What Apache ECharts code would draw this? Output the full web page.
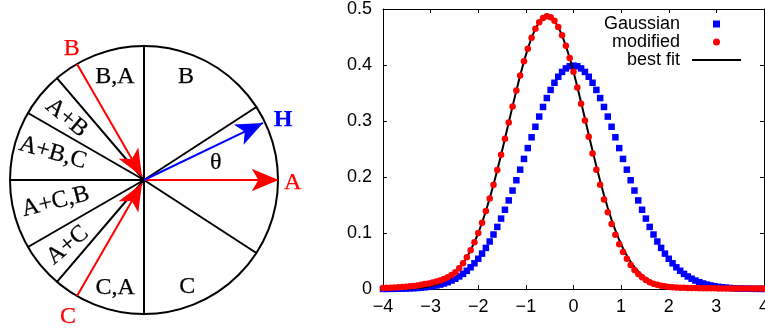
<!DOCTYPE html>
<html>
<head>
<meta charset="utf-8">
<script src="https://cdn.jsdelivr.net/npm/echarts@6/dist/echarts.min.js"></script>
<style>
  html, body { margin: 0; padding: 0; background: #fff; }
  #chart { width: 765px; height: 333px; }
</style>
</head>
<body>
<div id="chart"></div>
<script>
// right panel: sample positions and the three curves
const xs = [
  -4, -3.92, -3.84, -3.76, -3.68, -3.6, -3.52, -3.44, -3.36, -3.28,
  -3.2, -3.12, -3.04, -2.96, -2.88, -2.8, -2.72, -2.64, -2.56, -2.48,
  -2.4, -2.32, -2.24, -2.16, -2.08, -2, -1.92, -1.84, -1.76, -1.68,
  -1.6, -1.52, -1.44, -1.36, -1.28, -1.2, -1.12, -1.04, -0.96, -0.88,
  -0.8, -0.72, -0.64, -0.56, -0.48, -0.4, -0.32, -0.24, -0.16, -0.08,
  0, 0.08, 0.16, 0.24, 0.32, 0.4, 0.48, 0.56, 0.64, 0.72,
  0.8, 0.88, 0.96, 1.04, 1.12, 1.2, 1.28, 1.36, 1.44, 1.52,
  1.6, 1.68, 1.76, 1.84, 1.92, 2, 2.08, 2.16, 2.24, 2.32,
  2.4, 2.48, 2.56, 2.64, 2.72, 2.8, 2.88, 2.96, 3.04, 3.12,
  3.2, 3.28, 3.36, 3.44, 3.52, 3.6, 3.68, 3.76, 3.84, 3.92,
  4
]

const gaussian = [
  0.0001, 0.0002, 0.0003, 0.0003, 0.0005, 0.0006, 0.0008, 0.0011, 0.0014, 0.0018,
  0.0024, 0.0031, 0.0039, 0.0050, 0.0063, 0.0079, 0.0099, 0.0122, 0.0151, 0.0184,
  0.0224, 0.0270, 0.0325, 0.0387, 0.0459, 0.0540, 0.0632, 0.0734, 0.0848, 0.0973,
  0.1109, 0.1257, 0.1415, 0.1582, 0.1758, 0.1942, 0.2131, 0.2323, 0.2516, 0.2709,
  0.2897, 0.3079, 0.3251, 0.3410, 0.3555, 0.3683, 0.3790, 0.3876, 0.3939, 0.3977,
  0.3989, 0.3977, 0.3939, 0.3876, 0.3790, 0.3683, 0.3555, 0.3410, 0.3251, 0.3079,
  0.2897, 0.2709, 0.2516, 0.2323, 0.2131, 0.1942, 0.1758, 0.1582, 0.1415, 0.1257,
  0.1109, 0.0973, 0.0848, 0.0734, 0.0632, 0.0540, 0.0459, 0.0387, 0.0325, 0.0270,
  0.0224, 0.0184, 0.0151, 0.0122, 0.0099, 0.0079, 0.0063, 0.0050, 0.0039, 0.0031,
  0.0024, 0.0018, 0.0014, 0.0011, 0.0008, 0.0006, 0.0005, 0.0003, 0.0003, 0.0002,
  0.0001
]

const modified = [
  0.0019, 0.0021, 0.0024, 0.0027, 0.0031, 0.0036, 0.0041, 0.0047, 0.0055, 0.0064,
  0.0075, 0.0088, 0.0100, 0.0115, 0.0132, 0.0150, 0.0180, 0.0210, 0.0250, 0.0300,
  0.0370, 0.0461, 0.0567, 0.0692, 0.0836, 0.1000, 0.1185, 0.1392, 0.1618, 0.1862,
  0.2124, 0.2398, 0.2683, 0.2972, 0.3261, 0.3543, 0.3813, 0.4065, 0.4291, 0.4487,
  0.4646, 0.4765, 0.4840, 0.4870, 0.4852, 0.4788, 0.4680, 0.4530, 0.4343, 0.4124,
  0.3878, 0.3600, 0.3310, 0.3010, 0.2720, 0.2420, 0.2130, 0.1860, 0.1600, 0.1370,
  0.1160, 0.0970, 0.0800, 0.0660, 0.0540, 0.0430, 0.0340, 0.0270, 0.0210, 0.0160,
  0.0120, 0.0095, 0.0075, 0.0060, 0.0047, 0.0037, 0.0030, 0.0026, 0.0023, 0.0021,
  0.0019, 0.0017, 0.0016, 0.0015, 0.0014, 0.0013, 0.0012, 0.0012, 0.0011, 0.0011,
  0.0010, 0.0010, 0.0010, 0.0009, 0.0009, 0.0009, 0.0008, 0.0008, 0.0008, 0.0008,
  0.0008
]

const bestFit = [
  0.0001, 0.0001, 0.0001, 0.0002, 0.0003, 0.0004, 0.0006, 0.0009, 0.0013, 0.0018,
  0.0025, 0.0034, 0.0046, 0.0062, 0.0082, 0.0108, 0.0141, 0.0182, 0.0233, 0.0295,
  0.0370, 0.0461, 0.0567, 0.0692, 0.0836, 0.1000, 0.1185, 0.1392, 0.1618, 0.1862,
  0.2124, 0.2398, 0.2683, 0.2972, 0.3261, 0.3543, 0.3813, 0.4065, 0.4291, 0.4487,
  0.4646, 0.4765, 0.4840, 0.4870, 0.4852, 0.4788, 0.4680, 0.4530, 0.4343, 0.4124,
  0.3878, 0.3612, 0.3332, 0.3044, 0.2755, 0.2469, 0.2192, 0.1927, 0.1677, 0.1446,
  0.1235, 0.1045, 0.0875, 0.0726, 0.0597, 0.0486, 0.0392, 0.0313, 0.0247, 0.0193,
  0.0150, 0.0115, 0.0088, 0.0066, 0.0049, 0.0036, 0.0027, 0.0019, 0.0014, 0.0010,
  0.0007, 0.0005, 0.0003, 0.0002, 0.0002, 0.0001, 0.0001, 0, 0, 0,
  0, 0, 0, 0, 0, 0, 0, 0, 0, 0,
  0
]

const seriesNames = ['Gaussian', 'modified', 'best fit']

// left panel: sector dividers, arrows and labels (polar: [radius, angle in degrees])
const dividerAngles = [33, 90, 130.5, 150, 180, 210, 229.5, 270, 327]
const arrowAngles = [120, 240, 0, 25.6]
const arrowFrom = [1, 1, 0, 0]
const arrowTo = [0.03, 0.03, 1.005, 0.985]
const arrowColors = ['#ff0000', '#ff0000', '#ff0000', '#0000ff']

const labelTexts = ['B,A', 'B', 'A+B', 'A+B,C', 'A+C,B', 'A+C', 'C,A', 'C', 'θ', 'A', 'B', 'C', 'H']
const labelRadius = [0.80, 0.83, 0.74, 0.71, 0.68, 0.75, 0.83, 0.86, 0.55, 1.11, 1.12, 1.17, 1.13]
const labelAngles = [105.7, 67.8, 141.3, 163.5, 193.9, 220.5, 255, 292, 13.3, 358.8, 118.8, 241, 23.3]
const labelTilt = [0, 0, -40, -16, 14, 40, 0, 0, 0, 0, 0, 0, 0]
const labelColors = ['#000', '#000', '#000', '#000', '#000', '#000', '#000', '#000', '#000',
  '#ff0000', '#ff0000', '#ff0000', '#0000ff']

const serif = '"Liberation Serif", "DejaVu Serif", serif'
const sans = '"Liberation Sans", Arial, sans-serif'

const chart = echarts.init(document.getElementById('chart'), null, { renderer: 'canvas' })

const pairs = (ys) => xs.map((x, i) => [x, ys[i]])

const dividerSeries = dividerAngles.map((a) => ({
  type: 'line',
  coordinateSystem: 'polar',
  polarIndex: 0,
  data: [[0, a], [1, a]],
  symbol: 'none',
  clip: false,
  silent: true,
  lineStyle: { color: '#000', width: 2 },
  z: 2,
}))

// the arrow symbol's tip sits on the last data point
const arrowSeries = arrowAngles.map((a, i) => {
  const inward = arrowTo[i] < arrowFrom[i]
  return {
    type: 'line',
    coordinateSystem: 'polar',
    polarIndex: 0,
    symbol: 'none',
    showSymbol: true,
    clip: false,
    silent: true,
    lineStyle: { color: arrowColors[i], width: 2 },
    itemStyle: { color: arrowColors[i], opacity: 1 },
    data: [
      { value: [arrowFrom[i], a], symbol: 'none' },
      {
        value: [arrowTo[i], a],
        symbol: 'arrow',
        symbolSize: [17, 27],
        symbolRotate: inward ? a + 90 : a - 90,
      },
    ],
    z: 4,
  }
})

const labelSeries = {
  type: 'scatter',
  coordinateSystem: 'polar',
  polarIndex: 0,
  symbolSize: 0,
  clip: false,
  silent: true,
  data: labelTexts.map((t, i) => ({
    value: [labelRadius[i], labelAngles[i]],
    label: {
      show: true,
      position: 'inside',
      formatter: t,
      rotate: labelTilt[i],
      color: labelColors[i],
      opacity: 1,
      textBorderColor: labelColors[i],
      textBorderWidth: 0.25,
      fontFamily: serif,
      fontSize: 24,
      fontWeight: t === 'H' ? 'bold' : 'normal',
    },
  })),
  z: 5,
}

const tickLabel = (v) => (v < 0 ? '\u2212' + Math.abs(v) : String(v))

const option = {
  backgroundColor: '#fff',
  animation: false,
  polar: { center: [144, 180], radius: 134 },
  angleAxis: {
    type: 'value',
    min: 0,
    max: 360,
    startAngle: 0,
    clockwise: false,
    axisLine: { lineStyle: { color: '#000', width: 2 } },
    axisTick: { show: false },
    axisLabel: { show: false },
    splitLine: { show: false },
  },
  radiusAxis: { type: 'value', min: 0, max: 1, show: false, splitLine: { show: false } },
  grid: { left: 383, right: 1, top: 9, bottom: 44, outerBoundsMode: 'none' },
  legend: {
    data: [
      { name: seriesNames[0], icon: 'path://M0,0H10V10H0Z' },
      { name: seriesNames[1], icon: 'circle' },
      { name: seriesNames[2], itemStyle: { opacity: 0 } },
    ],
    orient: 'vertical',
    align: 'right',
    right: 23,
    top: 15,
    padding: 0,
    itemWidth: 49,
    itemHeight: 7,
    itemGap: 0,
    symbolKeepAspect: true,
    selectedMode: false,
    textStyle: { fontFamily: sans, fontSize: 18, color: '#000', lineHeight: 17.5, padding: [0, 7, 0, 0] },
  },
  xAxis: [
    {
      type: 'value',
      min: -4,
      max: 4,
      interval: 1,
      axisLine: { onZero: false, lineStyle: { color: '#000', width: 1 } },
      axisTick: { inside: true, length: 4, lineStyle: { color: '#000' } },
      axisLabel: { color: '#000', fontFamily: sans, fontSize: 18, margin: 9, formatter: tickLabel },
      splitLine: { show: false },
    },
    {
      type: 'value',
      position: 'top',
      min: -4,
      max: 4,
      interval: 1,
      axisLine: { onZero: false, lineStyle: { color: '#000', width: 1 } },
      axisTick: { inside: true, length: 4, lineStyle: { color: '#000' } },
      axisLabel: { show: false },
      splitLine: { show: false },
    },
  ],
  yAxis: [
    {
      type: 'value',
      min: 0,
      max: 0.5,
      interval: 0.1,
      axisLine: { show: true, onZero: false, lineStyle: { color: '#000', width: 1 } },
      axisTick: { show: true, inside: true, length: 4, lineStyle: { color: '#000' } },
      axisLabel: {
        color: '#000',
        fontFamily: sans,
        fontSize: 18,
        margin: 11,
        formatter: (v) => (v === 0 ? '0' : v.toFixed(1)),
      },
      splitLine: { show: false },
    },
    {
      type: 'value',
      position: 'right',
      min: 0,
      max: 0.5,
      interval: 0.1,
      axisLine: { show: true, onZero: false, lineStyle: { color: '#000', width: 1 } },
      axisTick: { show: true, inside: true, length: 4, lineStyle: { color: '#000' } },
      axisLabel: { show: false },
      splitLine: { show: false },
    },
  ],
  series: [
    {
      name: seriesNames[0],
      type: 'scatter',
      xAxisIndex: 0,
      yAxisIndex: 0,
      data: pairs(gaussian),
      symbol: 'rect',
      symbolSize: 6.5,
      itemStyle: { color: '#0000ff', opacity: 1 },
      clip: false,
      z: 2,
    },
    {
      name: seriesNames[2],
      type: 'line',
      xAxisIndex: 0,
      yAxisIndex: 0,
      data: pairs(bestFit),
      symbol: 'none',
      lineStyle: { color: '#000', width: 2 },
      itemStyle: { color: '#000' },
      z: 3,
    },
    {
      name: seriesNames[1],
      type: 'scatter',
      xAxisIndex: 0,
      yAxisIndex: 0,
      data: pairs(modified),
      symbol: 'circle',
      symbolSize: 6.5,
      itemStyle: { color: '#ff0000', opacity: 1 },
      clip: false,
      z: 4,
    },
    ...dividerSeries,
    ...arrowSeries,
    labelSeries,
  ],
}

chart.setOption(option)
</script>
</body>
</html>
